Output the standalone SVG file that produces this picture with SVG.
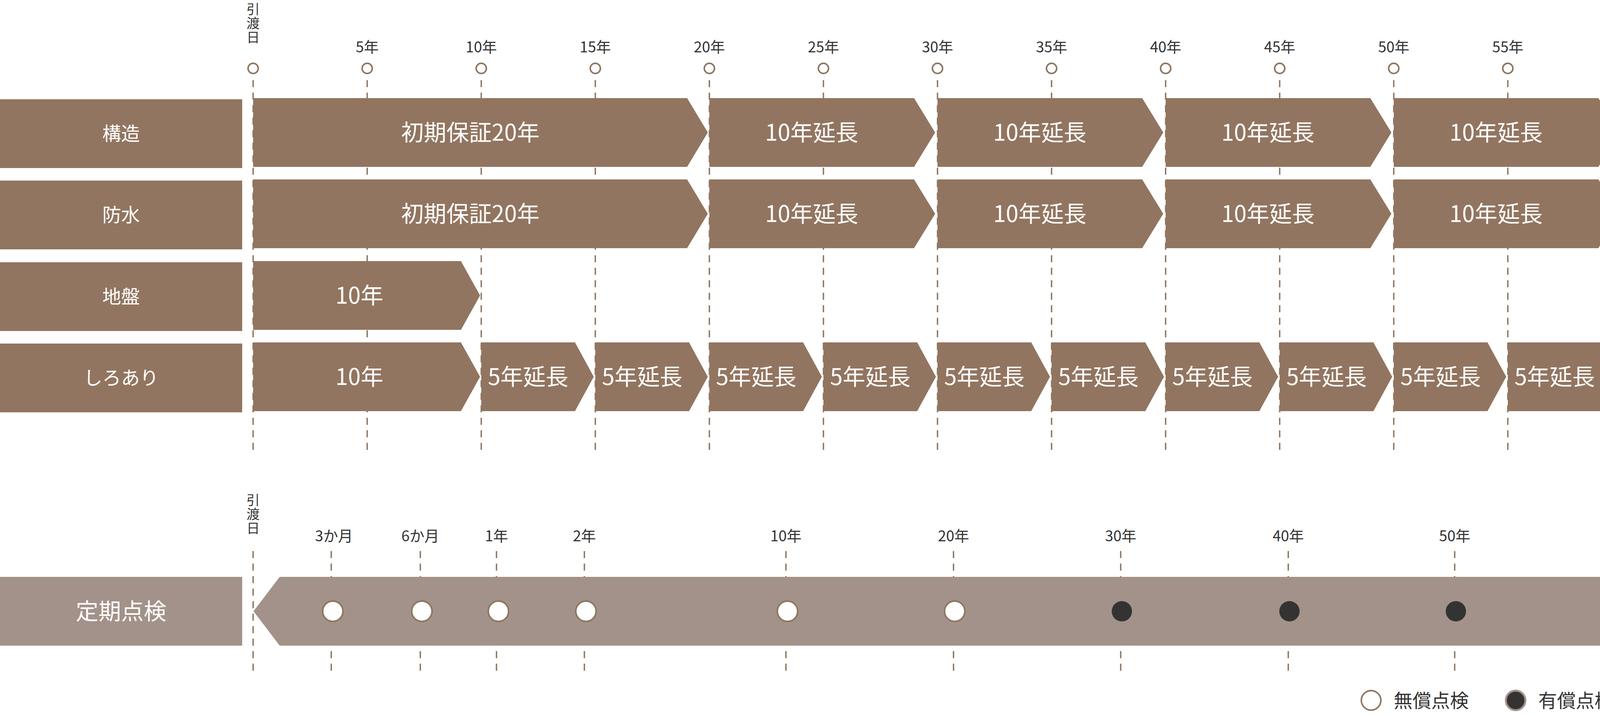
<svg xmlns="http://www.w3.org/2000/svg" width="4212" height="1832" viewBox="0 0 4212 1832">
<style>
text{font-family:"Noto Sans CJK JP","Noto Sans",sans-serif}
.hd{font-size:38px;fill:#333;text-anchor:middle}
.vt{font-size:34px;fill:#333;writing-mode:vertical-rl;letter-spacing:2px}
.lb{font-size:48px;fill:#fff;text-anchor:middle}
.bt{font-size:58px;fill:#fff;text-anchor:middle}
.bar{fill:#927560}
.dash{stroke:#8c7560;stroke-width:3.5;stroke-dasharray:18 14;fill:none}
.tk{fill:none;stroke:#8c7560;stroke-width:4}
.free{fill:#fff;stroke:#8c7560;stroke-width:4}
.paid{fill:#333}
</style>
<g id="connectors">
<path class="dash" d="M648 205V1155M940 205V1155M1232 205V1155M1524 205V1155M1816 205V1155M2108 205V1155M2400 205V1155M2692 205V1155M2984 205V1155M3276 205V1155M3568 205V1155M3860 205V1155M4152 205V1155"/>
<path class="dash" d="M648 1410V1726M848 1410V1726M1076 1410V1726M1271 1410V1726M1496 1410V1726M2012 1410V1726M2441 1410V1726M2869 1410V1726M3298 1410V1726M3724 1410V1726M4151 1410V1726"/>
</g>
<g id="top-header">
<text class="vt" x="648" y="6">引渡日</text>
<text class="hd" x="940" y="134">5年</text><text class="hd" x="1232" y="134">10年</text><text class="hd" x="1524" y="134">15年</text><text class="hd" x="1816" y="134">20年</text><text class="hd" x="2108" y="134">25年</text><text class="hd" x="2400" y="134">30年</text><text class="hd" x="2692" y="134">35年</text><text class="hd" x="2984" y="134">40年</text><text class="hd" x="3276" y="134">45年</text><text class="hd" x="3568" y="134">50年</text><text class="hd" x="3860" y="134">55年</text><text class="hd" x="4146" y="134">60年</text>
<g class="tk"><circle cx="648" cy="175" r="13"/><circle cx="940" cy="175" r="13"/><circle cx="1232" cy="175" r="13"/><circle cx="1524" cy="175" r="13"/><circle cx="1816" cy="175" r="13"/><circle cx="2108" cy="175" r="13"/><circle cx="2400" cy="175" r="13"/><circle cx="2692" cy="175" r="13"/><circle cx="2984" cy="175" r="13"/><circle cx="3276" cy="175" r="13"/><circle cx="3568" cy="175" r="13"/><circle cx="3860" cy="175" r="13"/><circle cx="4152" cy="175" r="13"/></g>
</g>
<g id="row-kozo">
<rect class="bar" x="0" y="254" width="620" height="176"/><text class="lb" x="310" y="359">構造</text>
<polygon class="bar" points="648,251 1759,251 1812,339 1759,427 648,427"/><text class="bt" x="1204" y="360">初期保証20年</text>
<polygon class="bar" points="1816,251 2340,251 2394,339 2340,427 1816,427"/><text class="bt" x="2078" y="360">10年延長</text>
<polygon class="bar" points="2400,251 2924,251 2978,339 2924,427 2400,427"/><text class="bt" x="2662" y="360">10年延長</text>
<polygon class="bar" points="2984,251 3508,251 3562,339 3508,427 2984,427"/><text class="bt" x="3246" y="360">10年延長</text>
<polygon class="bar" points="3568,251 4092,251 4146,339 4092,427 3568,427"/><text class="bt" x="3830" y="360">10年延長</text>
</g>
<g id="row-bousui">
<rect class="bar" x="0" y="462" width="620" height="176"/><text class="lb" x="310" y="567">防水</text>
<polygon class="bar" points="648,459 1759,459 1812,547 1759,635 648,635"/><text class="bt" x="1204" y="568">初期保証20年</text>
<polygon class="bar" points="1816,459 2340,459 2394,547 2340,635 1816,635"/><text class="bt" x="2078" y="568">10年延長</text>
<polygon class="bar" points="2400,459 2924,459 2978,547 2924,635 2400,635"/><text class="bt" x="2662" y="568">10年延長</text>
<polygon class="bar" points="2984,459 3508,459 3562,547 3508,635 2984,635"/><text class="bt" x="3246" y="568">10年延長</text>
<polygon class="bar" points="3568,459 4092,459 4146,547 4092,635 3568,635"/><text class="bt" x="3830" y="568">10年延長</text>
</g>
<g id="row-jiban">
<rect class="bar" x="0" y="671" width="620" height="176"/><text class="lb" x="310" y="776">地盤</text>
<polygon class="bar" points="648,668 1180,668 1229,756 1180,844 648,844"/><text class="bt" x="920" y="777">10年</text>
</g>
<g id="row-shiroari">
<rect class="bar" x="0" y="879" width="620" height="176"/><text class="lb" x="310" y="984">しろあり</text>
<polygon class="bar" points="648,876 1180,876 1229,964 1180,1052 648,1052"/><text class="bt" x="920" y="985">10年</text>
<polygon class="bar" points="1232,876 1472,876 1520,964 1472,1052 1232,1052"/><text class="bt" x="1352" y="985">5年延長</text>
<polygon class="bar" points="1524,876 1764,876 1812,964 1764,1052 1524,1052"/><text class="bt" x="1644" y="985">5年延長</text>
<polygon class="bar" points="1816,876 2056,876 2104,964 2056,1052 1816,1052"/><text class="bt" x="1936" y="985">5年延長</text>
<polygon class="bar" points="2108,876 2348,876 2396,964 2348,1052 2108,1052"/><text class="bt" x="2228" y="985">5年延長</text>
<polygon class="bar" points="2400,876 2640,876 2688,964 2640,1052 2400,1052"/><text class="bt" x="2520" y="985">5年延長</text>
<polygon class="bar" points="2692,876 2932,876 2980,964 2932,1052 2692,1052"/><text class="bt" x="2812" y="985">5年延長</text>
<polygon class="bar" points="2984,876 3224,876 3272,964 3224,1052 2984,1052"/><text class="bt" x="3104" y="985">5年延長</text>
<polygon class="bar" points="3276,876 3516,876 3564,964 3516,1052 3276,1052"/><text class="bt" x="3396" y="985">5年延長</text>
<polygon class="bar" points="3568,876 3808,876 3856,964 3808,1052 3568,1052"/><text class="bt" x="3688" y="985">5年延長</text>
<polygon class="bar" points="3860,876 4100,876 4148,964 4100,1052 3860,1052"/><text class="bt" x="3980" y="985">5年延長</text>
</g>
<g id="bottom-header">
<text class="vt" x="648" y="1262">引渡日</text>
<text class="hd" x="855" y="1385">3か月</text><text class="hd" x="1076" y="1385">6か月</text><text class="hd" x="1271" y="1385">1年</text><text class="hd" x="1496" y="1385">2年</text><text class="hd" x="2012" y="1385">10年</text><text class="hd" x="2441" y="1385">20年</text><text class="hd" x="2869" y="1385">30年</text><text class="hd" x="3298" y="1385">40年</text><text class="hd" x="3724" y="1385">50年</text><text class="hd" x="4145" y="1385">60年</text>
</g>
<g id="row-teiki">
<rect x="0" y="1476" width="620" height="176" fill="#a39289"/><text class="bt" x="310" y="1585">定期点検</text>
<polygon fill="#a39289" points="716,1476 4098,1476 4137,1564 4098,1652 716,1652 649,1564"/>
<circle class="free" cx="852" cy="1564" r="26"/><circle class="free" cx="1080" cy="1564" r="26"/><circle class="free" cx="1276" cy="1564" r="26"/><circle class="free" cx="1500" cy="1564" r="26"/><circle class="free" cx="2016" cy="1564" r="26"/><circle class="free" cx="2444" cy="1564" r="26"/>
<circle class="paid" cx="2872" cy="1564" r="26"/><circle class="paid" cx="3301" cy="1564" r="26"/><circle class="paid" cx="3727" cy="1564" r="26"/><circle class="paid" cx="4151" cy="1564" r="26" stroke="#a39289" stroke-width="5"/>
</g>
<g id="legend">
<circle class="free" cx="3510" cy="1792" r="25" stroke-width="5"/><text x="3568" y="1810" font-size="48" fill="#333">無償点検</text>
<circle class="paid" cx="3880" cy="1792" r="25" stroke="#a39289" stroke-width="5"/><text x="3938" y="1810" font-size="48" fill="#333">有償点検</text>
</g>
</svg>
